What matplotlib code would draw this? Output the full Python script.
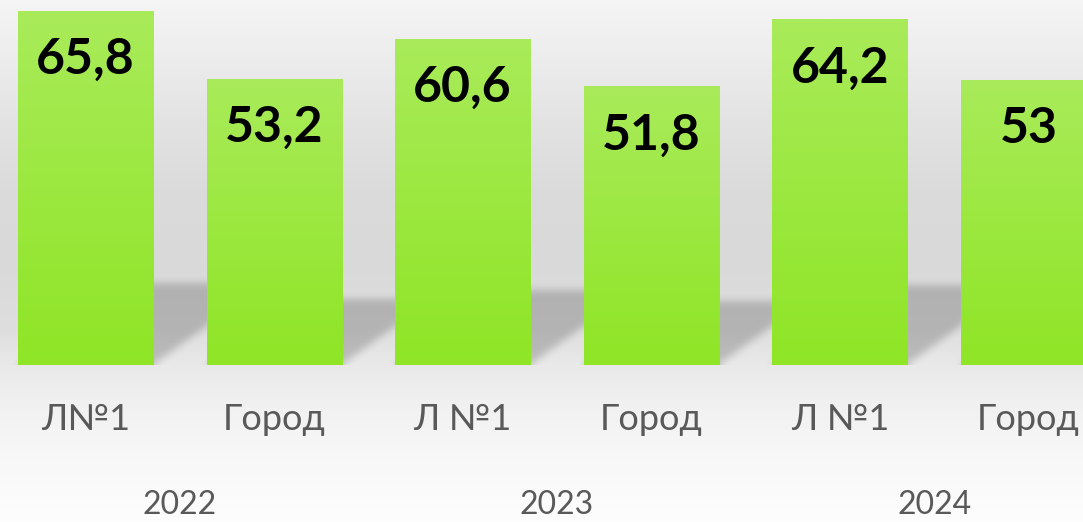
import numpy as np
import matplotlib
matplotlib.use("Agg")
import matplotlib.pyplot as plt
from matplotlib.colors import LinearSegmentedColormap
from matplotlib.transforms import blended_transform_factory

# ---- data ----
categories = ["Л№1", "Город", "Л №1", "Город", "Л №1", "Город"]
values = [65.8, 53.2, 60.6, 51.8, 64.2, 53.0]
value_labels = ["65,8", "53,2", "60,6", "51,8", "64,2", "53"]
years = ["2022", "2023", "2024"]

plt.rcParams['font.family'] = ['Lato', 'DejaVu Sans']

W, H = 1083, 522
fig = plt.figure(figsize=(W / 100, H / 100), dpi=100)

# background gradient
bg = fig.add_axes([0, 0, 1, 1], zorder=-10)
bg.set_axis_off()
ys = np.array([0, 60, 120, 190, 260, 330, 365, 400, 450, 522]) / H
gs = np.array([245, 236, 227, 219, 217, 222, 233, 240, 247, 253]) / 255
yy = np.linspace(0, 1, H)
col = np.interp(yy, ys, gs)
bgimg = np.repeat(col[:, None], 4, axis=1)
bg.imshow(np.dstack([bgimg, bgimg, bgimg]), aspect='auto', extent=(0, 1, 1, 0))
bg.set_xlim(0, 1)
bg.set_ylim(1, 0)

ax = fig.add_axes([0, (H - 365) / H, 1, 365 / H])
ax.patch.set_alpha(0)
for s in ax.spines.values():
    s.set_visible(False)
ax.set_xticks([])
ax.set_yticks([])

x = np.arange(len(values))
width = 0.716
xlim = (-0.453, 5.289)
ylim = (0, 67.8)
ax.set_xlim(*xlim)
ax.set_ylim(*ylim)

# shadows (rasterised, blurred) computed from the bar data
nx, ny = W, 365
gx = np.linspace(xlim[0], xlim[1], nx)
gy = np.linspace(ylim[1], ylim[0], ny)
GX, GY = np.meshgrid(gx, gy)
mask = np.zeros_like(GX)
shadow_frac = 0.23
skew = 0.0091
for xi, v in zip(x, values):
    sv = shadow_frac * v
    dx = skew * v
    t = np.clip(GY / sv, 0, None)
    inside = (GY >= 0) & (GY <= sv) & (GX >= xi - width / 2 + dx * t) & (GX <= xi + width / 2 + dx * t)
    mask = np.maximum(mask, inside.astype(float))

def box_blur(a, r, axis):
    k = np.ones(2 * r + 1) / (2 * r + 1)
    return np.apply_along_axis(lambda m: np.convolve(np.pad(m, r, mode='edge'), k, mode='valid'), axis, a)

for _ in range(2):
    mask = box_blur(mask, 4, 0)
    mask = box_blur(mask, 4, 1)
shadow = np.zeros((ny, nx, 4))
shadow[..., 3] = 0.19 * mask
ax.imshow(shadow, extent=(xlim[0], xlim[1], ylim[0], ylim[1]), aspect='auto', zorder=1, interpolation='bilinear')

# bars with vertical gradient
green = LinearSegmentedColormap.from_list("g", ["#8fe526", "#a9eb5a"])
grad = np.linspace(0, 1, 256)[:, None]
bars = ax.bar(x, values, width=width, color='none', edgecolor='none', zorder=2)
for b in bars:
    bx, by = b.get_x(), b.get_y()
    bw, bh = b.get_width(), b.get_height()
    im = ax.imshow(grad, cmap=green, origin='lower', aspect='auto',
                   extent=(bx, bx + bw, by, by + bh), zorder=3)
    im.set_clip_path(b)
ax.set_xlim(*xlim)
ax.set_ylim(*ylim)

# value labels
for xi, v, lab in zip(x, values, value_labels):
    ax.annotate(lab, (xi, v), xytext=(0, -19), textcoords='offset points',
                ha='center', va='top', fontsize=36, fontweight='bold', color='black', zorder=5)

# category labels
trans = blended_transform_factory(ax.transData, ax.transAxes)
for xi, c in zip(x, categories):
    ax.text(xi, -55 / 365, c, transform=trans, ha='center', va='center',
            fontsize=26, color='#595959')

# year labels
for k, yr in enumerate(years):
    ax.text(x[2 * k:2 * k + 2].mean(), -140 / 365, yr, transform=trans, ha='center', va='center',
            fontsize=23, color='#595959')

fig.savefig("out.png", dpi=100)
